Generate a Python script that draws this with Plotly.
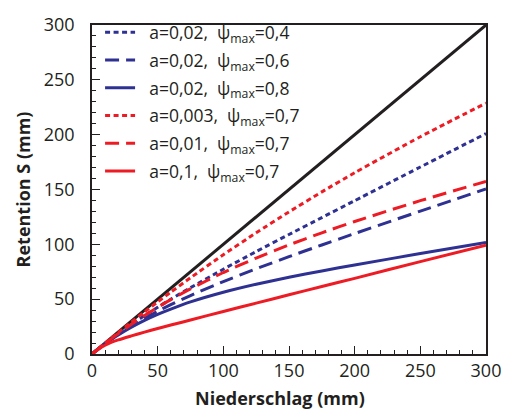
import plotly.graph_objects as go

# Niederschlag P (mm)
precip = [0, 5, 10, 15, 20, 30, 40, 50, 60, 75, 100, 125, 150, 175, 200, 250, 300]

# Retention S (mm) for each parameter set
s_a002_p04 = [0, 4.9, 9.6, 14.2, 18.6, 27.0, 35.0, 42.6, 50.0, 60.5, 77.3, 93.4, 109.0, 124.4, 139.8, 170.5, 201.0]
s_a002_p06 = [0, 4.9, 9.4, 13.8, 17.9, 25.5, 32.5, 39.0, 45.0, 53.3, 66.0, 77.7, 88.8, 99.4, 109.8, 130.3, 150.5]
s_a002_p08 = [0, 4.8, 9.3, 13.5, 17.4, 24.5, 30.7, 36.2, 41.0, 47.5, 56.3, 63.6, 70.0, 75.7, 81.2, 91.6, 101.8]
s_a0003_p07 = [0, 5.0, 9.9, 14.8, 19.6, 29.1, 38.4, 47.5, 56.4, 69.5, 90.5, 110.5, 129.6, 147.8, 165.3, 198.1, 228.8]
s_a001_p07 = [0, 4.9, 9.7, 14.3, 18.7, 27.1, 35.1, 42.5, 49.6, 59.4, 74.3, 87.5, 99.5, 110.5, 120.8, 139.8, 157.3]
s_a01_p07 = [0, 4.4, 8.0, 10.8, 12.9, 16.5, 20.0, 23.3, 26.4, 31.0, 38.8, 46.4, 54.0, 61.5, 69.0, 84.2, 99.3]

# 1:1 line (S = P)
line_x = [0, 300]
line_y = [0, 300]

labels = [
    "a=0,02,\u00a0\u00a0ψ<sub>max</sub>=0,4",
    "a=0,02,\u00a0\u00a0ψ<sub>max</sub>=0,6",
    "a=0,02,\u00a0\u00a0ψ<sub>max</sub>=0,8",
    "a=0,003,\u00a0\u00a0ψ<sub>max</sub>=0,7",
    "a=0,01,\u00a0\u00a0ψ<sub>max</sub>=0,7",
    "a=0,1,\u00a0\u00a0ψ<sub>max</sub>=0,7",
]

BLUE = "#2E3192"
RED = "#ED1C24"
INK = "#231F20"
DOT = "5px,3.5px"
DASH = "14px,7px"

series = [
    (s_a002_p04, BLUE, DOT),
    (s_a002_p06, BLUE, DASH),
    (s_a002_p08, BLUE, "solid"),
    (s_a0003_p07, RED, DOT),
    (s_a001_p07, RED, DASH),
    (s_a01_p07, RED, "solid"),
]

fig = go.Figure()

fig.add_trace(go.Scatter(
    x=line_x, y=line_y, mode="lines",
    line=dict(color=INK, width=3), showlegend=False, hoverinfo="skip",
))

for i, (vals, color, dash) in enumerate(series):
    fig.add_trace(go.Scatter(
        x=precip, y=vals, mode="lines",
        name="\u00a0\u00a0" + labels[i],
        legendgroup=f"g{i}",
        line=dict(color=color, width=3, dash=dash, shape="spline", smoothing=0.6),
    ))

axis_common = dict(
    range=[0, 300],
    dtick=50,
    ticks="inside",
    ticklen=8,
    tickwidth=1.2,
    tickcolor=INK,
    minor=dict(dtick=10, ticks="inside", ticklen=4, tickwidth=1, tickcolor=INK, showgrid=False),
    showgrid=False,
    zeroline=False,
    showline=True,
    linecolor=INK,
    linewidth=1.5,
    mirror=True,
    tickfont=dict(family="Open Sans", size=18, color=INK),
)

fig.update_layout(
    width=513,
    height=413,
    margin=dict(l=92, r=22, t=12, b=59),
    paper_bgcolor="white",
    plot_bgcolor="white",
    font=dict(family="Open Sans", color=INK),
    xaxis=dict(**axis_common, ticklabelstandoff=0),
    yaxis=dict(
        **axis_common,
        title=dict(text="<b>Retention S (mm)</b>", font=dict(family="Open Sans", size=18, color=INK), standoff=8),
        ticklabelstandoff=12,
    ),
    legend=dict(
        x=0.0205, y=1.032, xanchor="left", yanchor="top",
        bgcolor="rgba(0,0,0,0)",
        font=dict(family="Open Sans", size=17.5, color=INK),
        tracegroupgap=2,
        traceorder="grouped",
    ),
    annotations=[
        dict(
            text="<b>Niederschlag (mm)</b>",
            xref="paper", yref="paper",
            x=0.4774, y=-46 / 342,
            xanchor="center", yanchor="middle",
            showarrow=False,
            font=dict(family="Open Sans", size=18, color=INK),
        )
    ],
)

fig.write_html("out.html")
